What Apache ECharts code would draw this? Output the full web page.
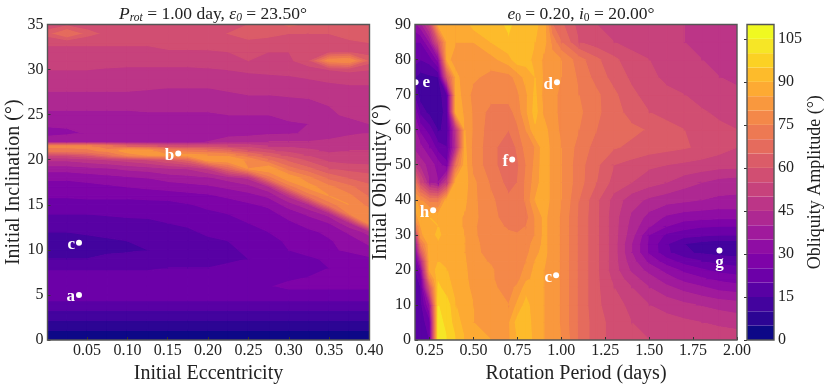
<!DOCTYPE html>
<html>
<head>
<meta charset="utf-8">
<style>html,body{margin:0;padding:0;background:#fff}#chart{width:830px;height:388px}</style>
<script src="https://cdn.jsdelivr.net/npm/echarts@6/dist/echarts.min.js"></script>
</head>
<body>
<div id="chart"></div>
<script>
var levels = [0,5,10,15,20,25,30,35,40,45,50,55,60,65,70,75,80,85,90,95,100,105,110];
var bandColors = ['#0d0887','#2c0594','#43039e','#5801a4','#6c00a8','#7e03a8','#8f0da4','#a01a9c','#ae2892','#bc3587','#c7427c',
  '#d14e72','#db5c68','#e56b5d','#ed7953','#f48849','#f9983e','#fdaa33','#fdbb2b','#fbd124','#f6e626','#f0f921'];

// left panel: amplitude on eccentricity / inclination
var eccentricity = [0.001,0.025,0.05,0.075,0.1,0.125,0.15,0.175,0.2,0.225,0.25,0.275,0.3,0.325,0.35,0.375,0.4];
var inclination = [0,1,2,3,4,5,6,7,8,9,10,11,12,13,14,15,16,17,18,19,20,20.5,21,21.5,22,23,24,25,26,28,29,30,31,32,33,34,35];
var amplitudeLeft = [
[3,3,3,3,3,3,3,3,3,3,3,3,3,3,3,3,3],
[4.7,4.7,4.7,4.7,4.7,4.7,4.7,4.7,4.7,4.7,4.7,4.7,4.7,4.7,4.7,4.7,4.7],
[9.2,9.2,9.2,9.2,9.2,9.2,9.2,9.2,9.2,9.2,9.2,9.2,9.2,9.2,9.2,9.2,9.2],
[13.7,13.7,13.7,13.7,13.7,13.7,13.7,13.7,13.7,13.7,13.7,13.7,13.7,13.7,13.7,13.7,13.7],
[18.3,18.3,18.3,18.3,18.3,18.3,18.3,18.3,18.3,18.3,18.3,18.3,18.3,18.3,18.3,18.3,18.3],
[23,23,23,23,23,23,23,23,23,23,23,23,23,23,23,23,23],
[24,24,24,24,24,24,24,24,24,24,24.5,24.5,26,26,26,26,26],
[22,22,22,22,22,22,22,22,22,23,23,23,24,25,26,26,26],
[19,19,19,19,19,19,20,20,20,21,22,22,24,24.5,25,26,27],
[15,15,15,16,16,17,17,18,18,19,20,21,22,24,26,27,29],
[13,13,13.5,14,14.5,15,16,17,18,19,21,23,25,27,29,31,33],
[13,13,14,14.5,15,16,16.5,17.5,19,20,22,24,25.5,27.5,29.5,32,37],
[15,15,15.5,16,16.5,17,18,19,21,22,24,25,27,29,31,36,42],
[17,17,17.5,18,18.5,19,20,21,22,23,25,26,29,32,35,44,80],
[20,20,20,20.5,21,21,21,22.5,24,25,26,28,32,36,42,75,78],
[23,23,23,23,23,23,23,24.5,26,27,29,31,37,44,72,80,73],
[25.5,25.5,26,26,26,26.5,27,28,29,31,33,36,46,72,80,76,69],
[27.5,27.5,28,29,30,31,32,33,34,36,38,44,72,82,76,71,66],
[31,31,32,33,34,35,37,38,39,42,46,72,84,76,68,64,62],
[37,37,38,39,41,42,44,45,50,65,80,84,72,66,60,58,57],
[46,46,48,50,52,55,60,66,84,85,78,70,63,58,53,52,52],
[55,56,60,68,76,80,80,82,80,78,70,63,58,54,51,51,51],
[72,73,74,76,83,82,75,72,70,66,60,56,53,51,49,50,50],
[76,76,76,72,65,62,58,56,56,55,53,50,49,48,47.5,49,49],
[38,38,38,37,36.5,36,36,37,40,42,43,45,45,45,46,47,48],
[33,34,35.5,37,37,37,37,37,37.5,38,38,38.5,39,41,42,44,45],
[36,36,36,37,37.5,38,38.5,38.5,38.5,38.5,38.5,39,39.5,40,41,43,45],
[39,39,39,39,39,39.5,39.5,39.5,39.5,40,40,40,41,42,44,46,46.5],
[41,41,41,41,41,41,41,41,41,41,42,42,43,43,45,46,47],
[46,46,46,46,46,45.5,45,45,45,46,47,47,47,48,48.5,49,49],
[48,48,48,48,47.5,47,47,47,47.5,48,48,48.5,49,50,51,52,52],
[50,50,50,49.5,49,49,49,49,49.5,50,51,51.5,52,53,55,56,55],
[52,52,52,52,52,52,52,52,52,53,55,54,54,58,78,80,62],
[54,54,54,54,54,54,54,54,54.5,55,55,55,55,56,57,58,58],
[55.5,55.5,55.5,55.5,55.5,55.5,58,58,57,57,57,57,57,57,58,59,60],
[62,70,62,58,56,56,56,57,58,60,65,62,60,60,60,62,62],
[57,58,57,57,56,56,56,56,56,56,60,62,66,64,60,64,64]
];

// right panel: amplitude on rotation period / obliquity
var period = [0.1667,0.2,0.25,0.3,0.35,0.4,0.45,0.5,0.6,0.7,0.75,0.8,0.85,0.9,0.95,1.0,1.1,1.2,1.3,1.4,1.5,1.6,1.7,1.8,1.9,2.0];
var obliquity = [0,5,10,15,17.5,20,22.5,25,27.5,30,32.5,35,40,45,50,55,60,65,70,75,80,85,90];
var amplitudeRight = [
[18,18,20,103,100,95,90,87,85,84,90,93,88,85,83,80,69,62,58,56,55,54,53.5,53,53,53],
[18,18,22,102,98,92,88,85,82.5,84,92,94,86,85,83,79,69,62,58,55,53,52,51,50,49,48],
[18,18,35,100,97,90,87,85,82,80,86,92,86,85,83,79,69,61,57,53.5,50,48,46,44.5,43,42],
[18,20,60,96,92,88,86,84,81,78,81,87,86,85,83,79,69,61,55,50,45,41,38,35.5,33,32],
[18,22,75,94,91,87,86,83,80.5,77.5,78,84,86,85,83,79,69,61,53.5,47,42,37,33,30.5,28.5,27],
[18,30,86,92,90,87,86,82,80.5,77,76,82,86,85,83,79,69,61,52,44,38,33,28.5,25.5,23,22],
[20,42,87,90,89,87,85.5,81.5,79.5,76.5,76,80,85,85.5,83,79,69,61,52,42,33.5,27,22.5,20,18,17],
[22,60,88,88,88,87,85,81,78.5,76.5,76,78,84,86,83,79,69,61,52,40,29,21,16,14,13,13],
[30,72,88,89,88,86.5,85,81,78,76,75.5,77.5,82,86,83,79,69,61,52,40,29,20.5,15,13,12,12],
[45,84,88,91,87,86,85,80.5,78,76,75.5,77,80,86,83,79,69,61,52,42,30,24,22,21,20,20],
[70,85,88,90,88,86,84.5,80.5,77.5,74,73,75,80,86,83,79,69,61,52,43,35.5,30,27,25.5,25,25],
[84,86,90,89,87,86,84.5,81,77,72,71,73,80,86,83,79,69,61,52,44,38,34,32,31.5,31,31],
[86,80,72,72,88,88,86,81,76,71,71,76,85,88,83,80,70,61,53,47,44,42,41,40,39,39],
[70,55,40,35,50,88,87,81,74,68,70,76,82,88,83,80,72,65,58,55,52,50,47,45,43,42],
[48,42,38,32,26,70,87,78,72,66,69,75,81,88,83,80,72,66,60,58,56,55,54,53,52,52],
[38,36,30,22,20,45,86,78,72,66,71,77,80,88,83,80,73,68,65.5,64,62.5,61.5,60.5,59,57,55],
[35,28,22,14,17,48,85,79,72,70,74,80,89,87,82,79,75,70,68,66,64.5,62,60,58,56,55],
[28,18,13,11,18,88,84,79,73,73,77,84,92,84,81,79,76,71,67,63,60,58,57,55.5,54,53],
[18,12,11,12,20,87,83,78,77,77,79,84,91,83,81,79,75,71,66,61,58,56,55,53,52,51],
[15,13,14,15,60,86,83,81,78,78,82,87,90,84,82,80,74,68,63,59,56,54,52,51,50,49],
[22,20,22,32,86,83,82,82,83,88,93,92,88,84,82,80,72,66,61,57,55,53,52,50,48,47],
[25,25,35,60,86,85,85,85,90,94,93,91,90,87,78,70,60,57,55,53,52,51,50,48,47,46],
[33,38,52,87,87,85,87,92,92,96,93,92,91,88,70,66,58,55,53,52,51,50,50,49,48,47]
];

var amplitudeTicks = [0,15,30,45,60,75,90,105];
var eccentricityTicks = [0.05,0.10,0.15,0.20,0.25,0.30,0.35,0.40];
var periodTicks = [0.25,0.50,0.75,1.00,1.25,1.50,1.75,2.00];

var leftPoints = [['a',0.04,5.0],['b',0.163,20.7],['c',0.04,10.8]];
var rightPoints = [['d',0.975,73.5],['e',0.17,73.5],['f',0.72,51.5],['g',1.9,25.5],['h',0.27,37],['c',0.97,18.5]];

var FONT = '"Liberation Serif", serif';
var FRAME = '#555555';
var TICK = '#333333';
var TEXT = '#222222';

function clipAbove(poly, lim, sign) {
  var out = [];
  for (var i = 0; i < poly.length; i++) {
    var a = poly[i], b = poly[(i + 1) % poly.length];
    var ina = sign * (a[2] - lim) >= 0, inb = sign * (b[2] - lim) >= 0;
    if (ina) out.push(a);
    if (ina !== inb) {
      var t = (lim - a[2]) / (b[2] - a[2]);
      out.push([a[0] + t * (b[0] - a[0]), a[1] + t * (b[1] - a[1]), lim]);
    }
  }
  return out;
}

function contourCells(xs, ys, grid) {
  var cells = [];
  for (var j = 0; j < ys.length - 1; j++) {
    for (var i = 0; i < xs.length - 1; i++) {
      cells.push([xs[i], ys[j], xs[i + 1], ys[j + 1], grid[j][i], grid[j][i + 1], grid[j + 1][i + 1], grid[j + 1][i]]);
    }
  }
  return cells;
}

function renderCell(params, api) {
  var x0 = api.value(0), y0 = api.value(1), x1 = api.value(2), y1 = api.value(3);
  var quad = [[x0, y0, api.value(4)], [x1, y0, api.value(5)], [x1, y1, api.value(6)], [x0, y1, api.value(7)]];
  var children = [];
  for (var k = 0; k < bandColors.length; k++) {
    var poly = clipAbove(quad, levels[k], 1);
    if (poly.length) poly = clipAbove(poly, levels[k + 1], -1);
    if (poly.length < 3) continue;
    children.push({
      type: 'polygon',
      shape: { points: poly.map(function (p) { return api.coord([p[0], p[1]]); }) },
      style: { fill: bandColors[k], stroke: bandColors[k], lineWidth: 1.2 }
    });
  }
  return { type: 'group', children: children };
}

function renderBand(params, api) {
  var a = api.coord([0, api.value(0)]), b = api.coord([1, api.value(1)]);
  return {
    type: 'rect',
    shape: { x: a[0], y: b[1], width: b[0] - a[0], height: a[1] - b[1] },
    style: { fill: bandColors[params.dataIndex] }
  };
}

function contourSeries(idx, xs, ys, grid) {
  return {
    type: 'custom', xAxisIndex: idx, yAxisIndex: idx, renderItem: renderCell, clip: true,
    data: contourCells(xs, ys, grid), encode: { x: [0, 2], y: [1, 3] },
    silent: true, animation: false, z: 2
  };
}

function pointSeries(idx, points) {
  var sides = { e: 'right', g: 'bottom' };
  return {
    type: 'scatter', xAxisIndex: idx, yAxisIndex: idx, symbolSize: 6, z: 4, silent: true,
    itemStyle: { color: '#fff', opacity: 1 },
    data: points.map(function (p) {
      return {
        value: [p[1], p[2]],
        label: {
          show: true, formatter: p[0], position: sides[p[0]] || 'left', distance: p[0] === 'e' ? 4 : 1,
          color: '#fff', fontFamily: FONT, fontSize: 17, fontWeight: 'bold',
          offset: [0, sides[p[0]] ? 0 : 2]
        }
      };
    })
  };
}

function axisBase(extra) {
  var base = {
    type: 'value', z: 5, splitLine: { show: false },
    axisLine: { show: false },
    axisTick: { show: true, inside: true, length: 3, lineStyle: { color: TICK, width: 1 } },
    axisLabel: { color: TEXT, fontFamily: FONT, fontSize: 16, margin: 4 },
    nameLocation: 'middle', nameTextStyle: { color: TEXT, fontFamily: FONT, fontSize: 20 }
  };
  return Object.assign(base, extra);
}

function fmt2(v) { return v.toFixed(2); }

var chart = echarts.init(document.getElementById('chart'), null, { renderer: 'canvas' });
var gridBase = { show: true, z: 6, borderColor: FRAME, borderWidth: 1.4, backgroundColor: 'transparent', containLabel: false, outerBoundsMode: 'none' };

chart.setOption({
  animation: false,
  backgroundColor: '#fff',
  title: [
    {
      left: 208, top: -1, textAlign: 'center',
      text: '{i|P}{s|rot}{n| = 1.00 day, }{i|ε}{s|0}{n| = 23.50°}',
      textStyle: { rich: {
        i: { fontFamily: FONT, fontStyle: 'italic', fontWeight: 'normal', fontSize: 17.5, color: TEXT, lineHeight: 20 },
        n: { fontFamily: FONT, fontWeight: 'normal', fontSize: 17.5, color: TEXT, lineHeight: 20 },
        s: { fontFamily: FONT, fontStyle: 'italic', fontWeight: 'normal', fontSize: 11.5, color: TEXT, lineHeight: 20, verticalAlign: 'bottom' }
      } }
    },
    {
      left: 576, top: -1, textAlign: 'center',
      text: '{i|e}{s|0}{n| = 0.20, }{i|i}{s|0}{n| = 20.00°}',
      textStyle: { rich: {
        i: { fontFamily: FONT, fontStyle: 'italic', fontWeight: 'normal', fontSize: 17.5, color: TEXT, lineHeight: 20 },
        n: { fontFamily: FONT, fontWeight: 'normal', fontSize: 17.5, color: TEXT, lineHeight: 20 },
        s: { fontFamily: FONT, fontWeight: 'normal', fontSize: 11.5, color: TEXT, lineHeight: 20, verticalAlign: 'bottom' }
      } }
    }
  ],
  grid: [
    Object.assign({ left: 47.5, top: 24.5, width: 322, height: 315.5 }, gridBase),
    Object.assign({ left: 415, top: 24.5, width: 322, height: 315.5 }, gridBase),
    Object.assign({ left: 747, top: 24.5, width: 27, height: 315.5 }, gridBase)
  ],
  xAxis: [
    axisBase({
      gridIndex: 0, min: 0.001, max: 0.4, name: 'Initial Eccentricity', nameGap: 23,
      axisTick: { show: true, inside: true, length: 3, customValues: eccentricityTicks, lineStyle: { color: TICK } },
      axisLabel: { color: TEXT, fontFamily: FONT, fontSize: 16, margin: 3, customValues: eccentricityTicks, formatter: fmt2 }
    }),
    axisBase({
      gridIndex: 1, min: 0.1667, max: 2, name: 'Rotation Period (days)', nameGap: 23,
      axisTick: { show: true, inside: true, length: 3, customValues: periodTicks, lineStyle: { color: TICK } },
      axisLabel: { color: TEXT, fontFamily: FONT, fontSize: 16, margin: 3, customValues: periodTicks, formatter: fmt2 }
    }),
    axisBase({ gridIndex: 2, min: 0, max: 1, axisTick: { show: false }, axisLabel: { show: false } })
  ],
  yAxis: [
    axisBase({ gridIndex: 0, min: 0, max: 35, interval: 5, name: 'Initial Inclination (°)', nameGap: 23 }),
    axisBase({ gridIndex: 1, min: 0, max: 90, interval: 10, name: 'Initial Obliquity (°)', nameGap: 23 }),
    axisBase({
      gridIndex: 2, min: 0, max: 110, position: 'right', name: 'Obliquity Amplitude (°)', nameGap: 28, nameRotate: 90,
      nameTextStyle: { color: TEXT, fontFamily: FONT, fontSize: 18 },
      axisTick: { show: true, inside: true, length: 3, customValues: amplitudeTicks, lineStyle: { color: TICK } },
      axisLabel: { color: TEXT, fontFamily: FONT, fontSize: 16, margin: 4, customValues: amplitudeTicks }
    })
  ],
  series: [
    contourSeries(0, eccentricity, inclination, amplitudeLeft),
    contourSeries(1, period, obliquity, amplitudeRight),
    {
      type: 'custom', xAxisIndex: 2, yAxisIndex: 2, renderItem: renderBand, silent: true, z: 2,
      data: bandColors.map(function (c, i) { return [levels[i], levels[i + 1]]; }), encode: { y: [0, 1] }
    },
    pointSeries(0, leftPoints),
    pointSeries(1, rightPoints)
  ]
});
</script>
</body>
</html>
